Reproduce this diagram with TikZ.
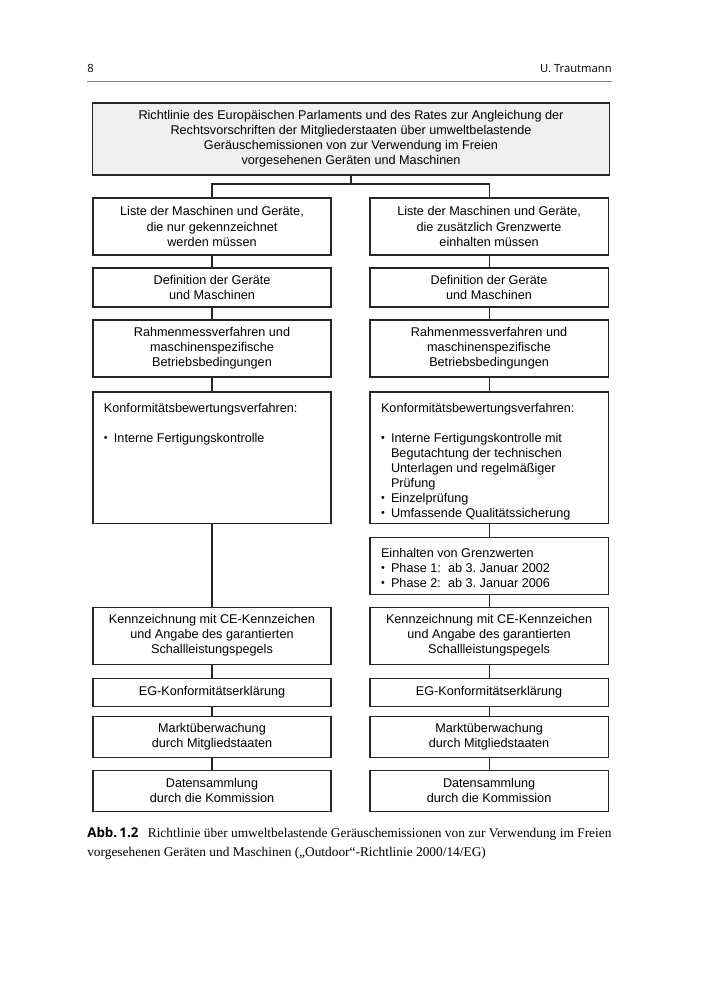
\documentclass[tikz,border=0pt]{standalone}
\usepackage{fontspec,graphicx}
\setmainfont{Liberation Serif}
\setsansfont{Liberation Sans}
\newfontfamily\headfont{Open Sans}
\usetikzlibrary{positioning}
\frenchspacing

\newcommand{\bul}{\raisebox{0.15ex}{\scalebox{0.85}{\textbullet}}}
\newcommand{\bitem}[1]{\par\hangindent=0.25cm\hangafter=1\noindent\makebox[0.25cm][l]{\bul}#1}
\newcommand{\topfill}[2]{\parbox[c][#1][t]{5.4cm}{\raggedright\vspace*{0.28cm}#2}}

\begin{document}
\begin{tikzpicture}[x=0.025cm,y=-0.025cm,
    box/.style={draw=black!85,line width=0.8pt,align=center,minimum width=5.95cm,inner sep=0pt,outer sep=0pt,
      font=\sffamily\fontsize{9}{10.7}\selectfont},
    topbox/.style={box,fill=gray!12,minimum width=12.9cm,minimum height=1.8cm},
    link/.style={draw=black!85,line width=0.8pt},
    head/.style={inner sep=0pt,font=\headfont\fontsize{8}{10}\selectfont}]
  \useasboundingbox (0,0) rectangle (700,1000);

  \node[head,anchor=base west] (pnum) at (87,72) {8};
  \node[head,anchor=base east] (auth) at (612,72) {U. Trautmann};
  \draw[gray,line width=0.6pt] (87,81) -- (612,81);

  \node[topbox] (dir) at (351,139) {\rule{0pt}{2pt}Richtlinie des Europäischen Parlaments und des Rates zur Angleichung der\\
    Rechtsvorschriften der Mitgliederstaaten über umweltbelastende\\
    Geräuschemissionen von zur Verwendung im Freien\\
    vorgesehenen Geräten und Maschinen};
  \coordinate[below=0.225cm of dir] (split);

  \node[box,anchor=north,minimum height=1.425cm] (l1) at (212,198) {Liste der Maschinen und Geräte,\\die nur gekennzeichnet\\werden müssen};
  \node[box,right=0.975cm of l1,minimum height=1.425cm] (r1) {Liste der Maschinen und Geräte,\\die zusätzlich Grenzwerte\\einhalten müssen};
  \node[box,below=0.325cm of l1,minimum height=0.975cm] (l2) {Definition der Geräte\\und Maschinen};
  \node[box,below=0.325cm of r1,minimum height=0.975cm] (r2) {Definition der Geräte\\und Maschinen};
  \node[box,below=0.325cm of l2,minimum height=1.425cm] (l3) {Rahmenmessverfahren und\\maschinenspezifische\\Betriebsbedingungen};
  \node[box,below=0.325cm of r2,minimum height=1.425cm] (r3) {Rahmenmessverfahren und\\maschinenspezifische\\Betriebsbedingungen};
  \node[box,below=0.375cm of l3] (l4) {\topfill{3.275cm}{Konformitätsbewertungsverfahren:\par\vspace{\baselineskip}
    \bitem{Interne Fertigungskontrolle}}};
  \node[box,below=0.375cm of r3] (r4) {\topfill{3.275cm}{Konformitätsbewertungsverfahren:\par\vspace{\baselineskip}
    \bitem{Interne Fertigungskontrolle mit\newline Begutachtung der technischen\newline Unterlagen und regelmäßiger\newline Prüfung}
    \bitem{Einzelprüfung}
    \bitem{Umfassende Qualitätssicherung}}};
  \node[box,below=0.35cm of r4] (r5) {\topfill{1.425cm}{Einhalten von Grenzwerten
    \bitem{Phase 1:\ \ ab 3. Januar 2002}
    \bitem{Phase 2:\ \ ab 3. Januar 2006}}};
  \node[box,below=0.325cm of r5,minimum height=1.425cm] (r6) {Kennzeichnung mit CE-Kennzeichen\\und Angabe des garantierten\\Schallleistungspegels};
  \node[box,left=0.975cm of r6,minimum height=1.425cm] (l6) {Kennzeichnung mit CE-Kennzeichen\\und Angabe des garantierten\\Schallleistungspegels};
  \node[box,below=0.35cm of l6,minimum height=0.7cm] (l7) {EG-Konformitätserklärung};
  \node[box,below=0.35cm of r6,minimum height=0.7cm] (r7) {EG-Konformitätserklärung};
  \node[box,below=0.25cm of l7,minimum height=1.025cm] (l8) {Marktüberwachung\\durch Mitgliedstaaten};
  \node[box,below=0.25cm of r7,minimum height=1.025cm] (r8) {Marktüberwachung\\durch Mitgliedstaaten};
  \node[box,below=0.325cm of l8,minimum height=1.025cm] (l9) {Datensammlung\\durch die Kommission};
  \node[box,below=0.325cm of r8,minimum height=1.025cm] (r9) {Datensammlung\\durch die Kommission};

  \draw[link] (dir) -- (split) -| (l1);
  \draw[link] (split) -| (r1);
  \draw[link] (l1) edge (l2) (l2) edge (l3) (l3) edge (l4) (l4) edge (l6)
              (l6) edge (l7) (l7) edge (l8) (l8) edge (l9)
              (r1) edge (r2) (r2) edge (r3) (r3) edge (r4) (r4) edge (r5)
              (r5) edge (r6) (r6) edge (r7) (r7) edge (r8) (r8) edge (r9);

  \node[anchor=north west,inner sep=0pt,text width=13.1cm,align=justify,
        font=\fontsize{9.5}{13.5}\selectfont] (capt) at (87,827)
    {{\headfont\bfseries Abb.\,1.2}\hspace{0.7em}Richtlinie über umweltbelastende Geräuschemissionen von zur Verwendung im Freien\linebreak
     vorgesehenen Geräten und Maschinen („Outdoor“-Richtlinie 2000/14/EG)};
\end{tikzpicture}
\end{document}
